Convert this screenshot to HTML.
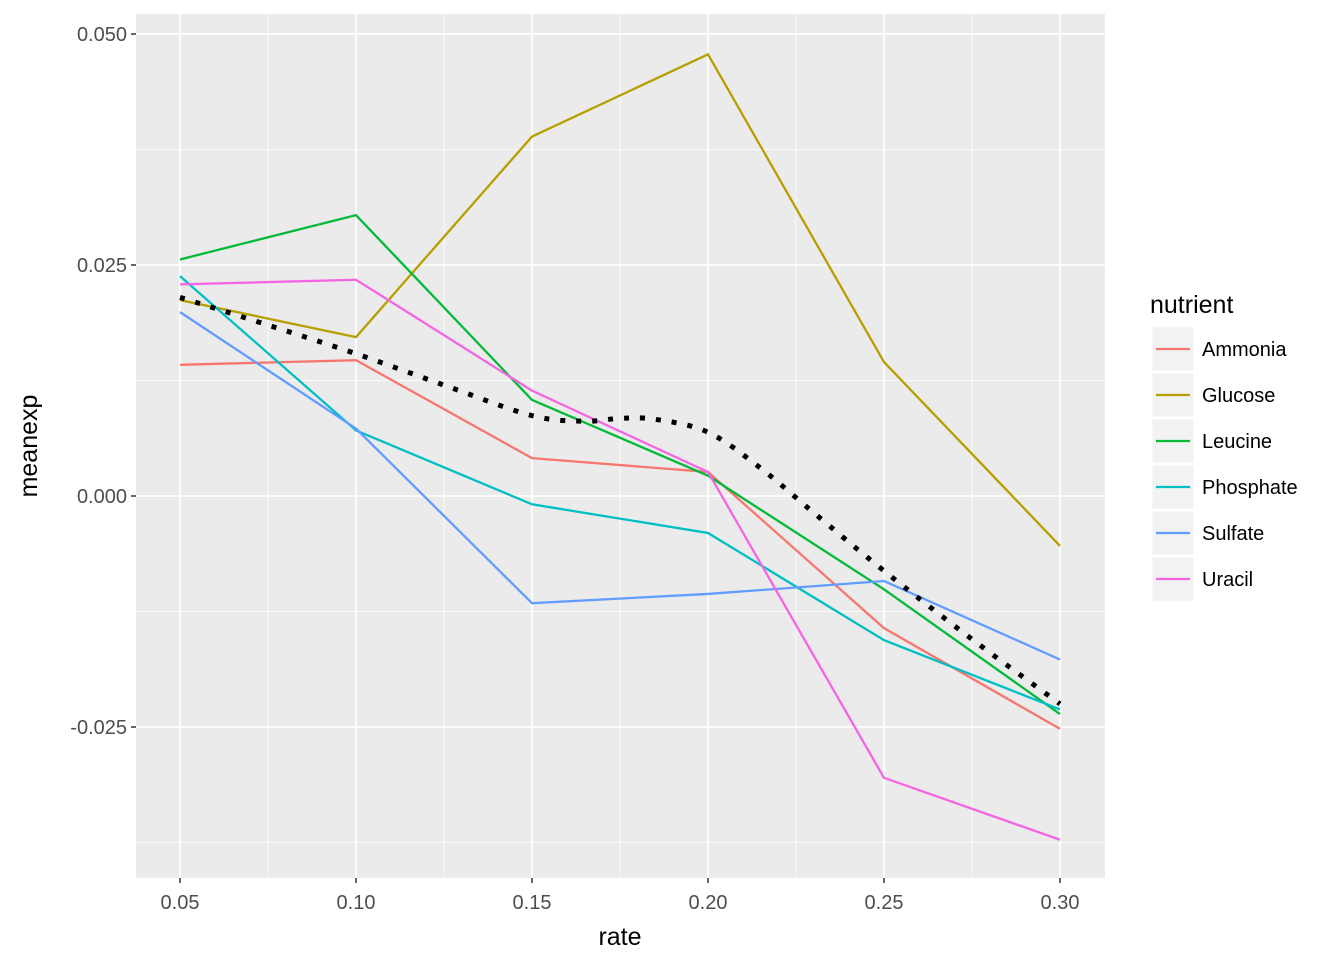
<!DOCTYPE html>
<html><head><meta charset="utf-8"><style>
body{margin:0;background:#fff;font-family:"Liberation Sans",Arial,sans-serif}
svg text{font-family:"Liberation Sans",Arial,sans-serif}
</style></head><body>
<svg id="c" width="1344" height="960" xmlns="http://www.w3.org/2000/svg"></svg>
<script>
const rates=[0.05,0.10,0.15,0.20,0.25,0.30];
const seriesNames=["Ammonia","Glucose","Leucine","Phosphate","Sulfate","Uracil"];
const colors=["#F8766D","#B79F00","#00BA38","#00BFC4","#619CFF","#F564E3"];
const ammonia=[0.0142,0.0147,0.0041,0.0026,-0.0143,-0.0252];
const glucose=[0.0212,0.0172,0.0389,0.0478,0.0145,-0.0054];
const leucine=[0.0256,0.0304,0.0104,0.0022,-0.0101,-0.0236];
const phosphate=[0.0238,0.0071,-0.0009,-0.0040,-0.0156,-0.0231];
const sulfate=[0.0199,0.0073,-0.0116,-0.0106,-0.0092,-0.0177];
const uracil=[0.0229,0.0234,0.0114,0.0026,-0.0305,-0.0372];
const smoothX=[0.05,0.075,0.10,0.125,0.15,0.165,0.175,0.185,0.20,0.215,0.23,0.25,0.275,0.30];
const smoothY=[0.0215,0.0185,0.0154,0.0120,0.0087,0.0081,0.0084,0.0083,0.0069,0.0030,-0.0018,-0.0081,-0.0155,-0.0225];
const xTicks=[0.05,0.10,0.15,0.20,0.25,0.30];
const xTickLabels=["0.05","0.10","0.15","0.20","0.25","0.30"];
const yTicks=[0.05,0.025,0,-0.025];
const yTickLabels=["0.050","0.025","0.000","-0.025"];
const svg=document.getElementById('c');
const NS="http://www.w3.org/2000/svg";
const L=136,R=1105,T=14,B=878;
const X=v=>180+(v-0.05)/0.05*176;
const Y=v=>496-v/0.025*231;
function mk(tag,attrs,parent){const e=document.createElementNS(NS,tag);for(const k in attrs)e.setAttribute(k,attrs[k]);(parent||svg).appendChild(e);return e;}
const panel=mk('rect',{x:L,y:T,width:R-L,height:B-T,fill:'#EBEBEB'});


for(let i=0;i<xTicks.length-1;i++){const v=(xTicks[i]+xTicks[i+1])/2;const g=mk('line',{x1:X(v),x2:X(v),y1:T,y2:B,stroke:'#fff','stroke-width':0.8});

}
const yMinor=[0.0375,0.0125,-0.0125,-0.0375];
yMinor.forEach(v=>{const g=mk('line',{x1:L,x2:R,y1:Y(v),y2:Y(v),stroke:'#fff','stroke-width':0.8});

});
xTicks.forEach((v,i)=>{const g=mk('line',{x1:X(v),x2:X(v),y1:T,y2:B,stroke:'#fff','stroke-width':1.8});


mk('line',{x1:X(v),x2:X(v),y1:B,y2:B+5,stroke:'#333','stroke-width':1.5});
const t=mk('text',{x:X(v),y:B+31,'text-anchor':'middle','font-size':20,fill:'#4D4D4D'});t.textContent=xTickLabels[i];

});
yTicks.forEach((v,i)=>{const g=mk('line',{x1:L,x2:R,y1:Y(v),y2:Y(v),stroke:'#fff','stroke-width':1.8});


mk('line',{x1:L-5,x2:L,y1:Y(v),y2:Y(v),stroke:'#333','stroke-width':1.5});
const t=mk('text',{x:L-9,y:Y(v)+7,'text-anchor':'end','font-size':20,fill:'#4D4D4D'});t.textContent=yTickLabels[i];

});
const data=[ammonia,glucose,leucine,phosphate,sulfate,uracil];
data.forEach((arr,s)=>{const p=mk('polyline',{points:arr.map((v,i)=>X(rates[i])+','+Y(v)).join(' '),fill:'none',stroke:colors[s],'stroke-width':2.3});

});
let d='';const pts=smoothX.map((v,i)=>[X(v),Y(smoothY[i])]);
d='M'+pts[0][0]+','+pts[0][1];
for(let i=0;i<pts.length-1;i++){const p0=pts[Math.max(0,i-1)],p1=pts[i],p2=pts[i+1],p3=pts[Math.min(pts.length-1,i+2)];
d+=' C'+(p1[0]+(p2[0]-p0[0])/6)+','+(p1[1]+(p2[1]-p0[1])/6)+' '+(p2[0]-(p3[0]-p1[0])/6)+','+(p2[1]-(p3[1]-p1[1])/6)+' '+p2[0]+','+p2[1];}
const sm=mk('path',{d:d,fill:'none',stroke:'#000','stroke-width':5,'stroke-dasharray':'5 11'});


const xt=mk('text',{x:620,y:945,'text-anchor':'middle','font-size':25,fill:'#000'});xt.textContent='rate';


const yt=mk('text',{x:37,y:446,'text-anchor':'middle','font-size':25,fill:'#000',transform:'rotate(-90 37 446)'});yt.textContent='meanexp';


const lt=mk('text',{x:1150,y:313,'font-size':25,fill:'#000'});lt.textContent='nutrient';


seriesNames.forEach((n,i)=>{const cy=349+i*46;
const k=mk('rect',{x:1152,y:cy-22,width:42,height:44,fill:'#F2F2F2',stroke:'#fff','stroke-width':1});


mk('line',{x1:1156,x2:1190,y1:cy,y2:cy,stroke:colors[i],'stroke-width':2.3});
const t=mk('text',{x:1202,y:cy+7,'font-size':20,fill:'#000'});t.textContent=n;

});
</script>
</body></html>
